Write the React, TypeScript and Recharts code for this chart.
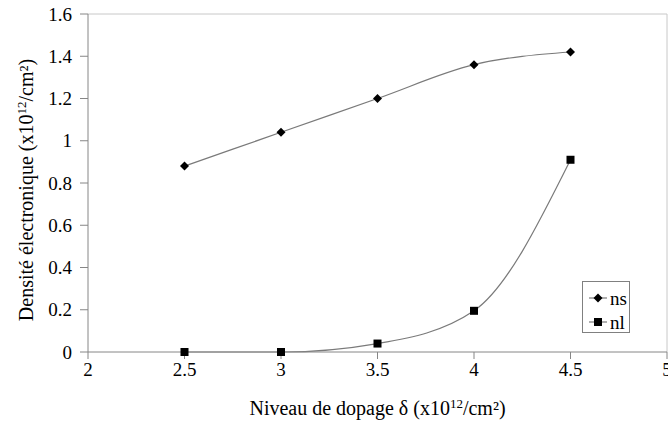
import React from 'react';
import { LineChart, Line, XAxis, YAxis, ReferenceLine, Legend } from 'recharts';

const xValues = [2.5, 3, 3.5, 4, 4.5];
const nsValues = [0.88, 1.04, 1.2, 1.36, 1.42];
const nlValues = [0, 0, 0.04, 0.195, 0.91];
const xTicks = [2, 2.5, 3, 3.5, 4, 4.5, 5];
const yTicks = [0, 0.2, 0.4, 0.6, 0.8, 1, 1.2, 1.4, 1.6];
const seriesNames = ['ns', 'nl'];

const data = xValues.map((x, i) => ({ x, ns: nsValues[i], nl: nlValues[i] }));

const FONT = 'Liberation Serif, Tinos, DejaVu Serif, Noto Serif, Times New Roman, Times, serif';
const AXIS = '#868686';
const LINE = '#7a7a7a';

const Diamond = (props: any) => {
  const { cx, cy, index } = props;
  if (cx == null || cy == null) return null;
  const r = 4.5;
  return <polygon key={'d' + index} points={`${cx},${cy - r} ${cx + r},${cy} ${cx},${cy + r} ${cx - r},${cy}`} fill="#000" />;
};

const Square = (props: any) => {
  const { cx, cy, index } = props;
  if (cx == null || cy == null) return null;
  const r = 4;
  return <rect key={'s' + index} x={cx - r} y={cy - r} width={2 * r} height={2 * r} fill="#000" />;
};

const XLabel = (props: any) => {
  const vb = props.viewBox || {};
  return (
    <text x={vb.x + vb.width / 2} y={vb.y + 63} textAnchor="middle" style={{ fontFamily: FONT }} fontSize={20} fill="#000">
      Niveau de dopage δ (x10<tspan dy={-7} fontSize={13}>12</tspan><tspan dy={7}>/cm²)</tspan>
    </text>
  );
};

const YLabel = (props: any) => {
  const vb = props.viewBox || {};
  const cx = vb.x + 33;
  const cy = 190;
  return (
    <text x={0} y={0} transform={`translate(${cx},${cy}) rotate(-90)`} textAnchor="middle" style={{ fontFamily: FONT }} fontSize={20} fill="#000">
      Densité électronique (x10<tspan dy={-7} fontSize={13}>12</tspan><tspan dy={7}>/cm²)</tspan>
    </text>
  );
};

const LegendBox = () => (
  <div style={{ border: '1px solid #808080', background: '#fff', width: 48, height: 52, boxSizing: 'border-box', paddingTop: 5, fontFamily: FONT, fontSize: 19 }}>
    {seriesNames.map((n, i) => (
      <div key={n} style={{ display: 'flex', alignItems: 'center', height: 22, marginBottom: 2 }}>
        <svg width={24} height={14} style={{ marginLeft: 4 }}>
          <line x1={2} y1={7} x2={20} y2={7} stroke={LINE} strokeWidth={1.2} />
          {i === 0 ? (
            <polygon points="11,2.5 15.5,7 11,11.5 6.5,7" fill="#000" />
          ) : (
            <rect x={7} y={3} width={8} height={8} fill="#000" />
          )}
        </svg>
        <span style={{ lineHeight: '19px', marginLeft: -1 }}>{n}</span>
      </div>
    ))}
  </div>
);

export default function App() {
  return (
    <div style={{ position: 'fixed', left: 0, top: 0, background: '#fff', fontFamily: FONT }}>
      <LineChart width={668} height={439} data={data} margin={{ top: 14, right: 1, left: 0, bottom: 0 }} style={{ fontFamily: FONT }}>
        <XAxis
          dataKey="x"
          type="number"
          domain={[2, 5]}
          ticks={xTicks}
          allowDataOverflow
          height={87}
          tickSize={7}
          tickMargin={4}
          axisLine={{ stroke: AXIS }}
          tickLine={{ stroke: AXIS }}
          tick={{ fontSize: 19, fill: '#000', style: { fontFamily: FONT } }}
          interval={0}
          label={<XLabel />}
        />
        <YAxis
          type="number"
          domain={[0, 1.6]}
          ticks={yTicks}
          width={88}
          tickSize={8}
          tickMargin={8}
          axisLine={{ stroke: AXIS }}
          tickLine={{ stroke: AXIS }}
          tick={{ fontSize: 19, fill: '#000', style: { fontFamily: FONT } }}
          interval={0}
          label={<YLabel />}
        />
        <ReferenceLine y={1.6} stroke="#c8c8c8" />
        <ReferenceLine x={5} stroke="#c8c8c8" />
        <Line type="monotone" dataKey="nl" stroke={LINE} strokeWidth={1.2} dot={Square} isAnimationActive={false} />
        <Line type="monotone" dataKey="ns" stroke={LINE} strokeWidth={1.2} dot={Diamond} isAnimationActive={false} />
        <Legend
          layout="vertical"
          align="center"
          verticalAlign="middle"
          content={<LegendBox />}
          wrapperStyle={{ position: 'absolute', left: 582, top: 281, width: 48, height: 52 }}
        />
      </LineChart>
    </div>
  );
}
